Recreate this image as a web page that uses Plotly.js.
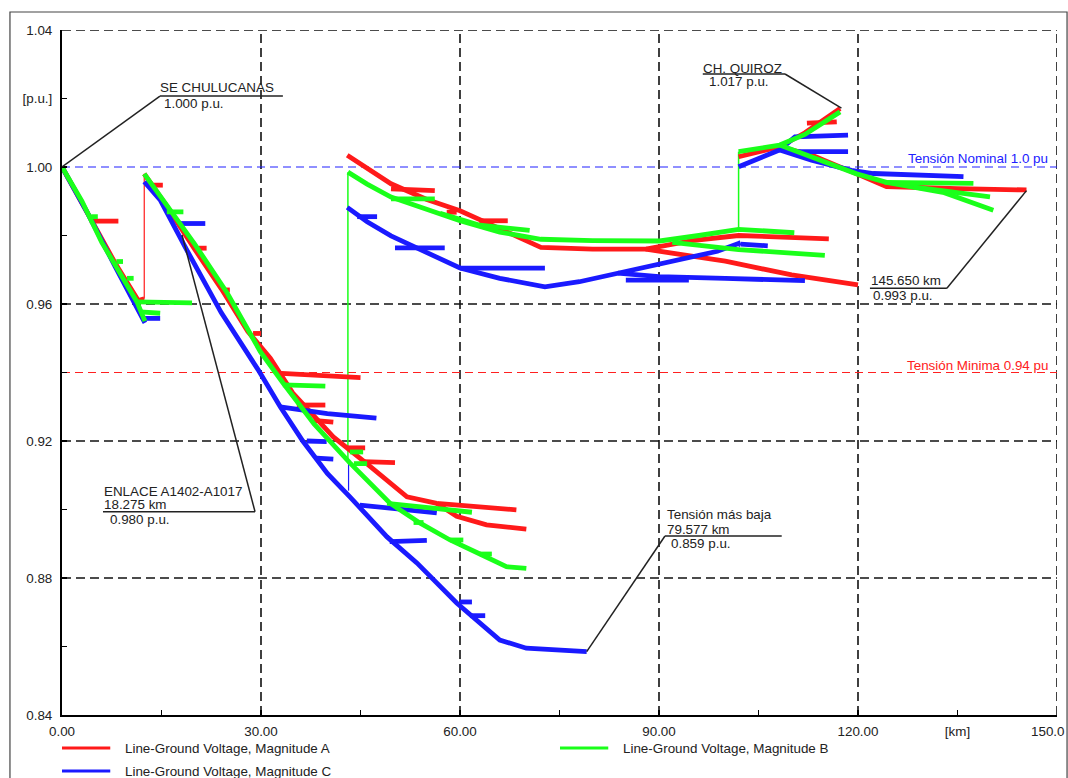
<!DOCTYPE html>
<html>
<head>
<meta charset="utf-8">
<script src="https://cdn.plot.ly/plotly-3.0.1.min.js"></script>
<style>html,body{margin:0;padding:0;background:#fff;}#chart{width:1068px;height:778px;}</style>
</head>
<body>
<div id="chart"></div>
<script>
// ---------- DATA (km, p.u.) ; null separates branches ----------
const redX = [
  0, 4.5, 8, 11.5, 12.4, null,
  4.2, 8.5, null,
  12.4, 16, 20, 24, 28, 31.4, 34.8, 40.9, 45.9, 52, 56.5, 60, 64, 68.5, null,
  56.5, 59.5, 64, 70, null,
  13.3, 15.2, null,
  20.6, 21.8, null,
  24.1, 25.3, null,
  28.8, 30, null,
  32.4, 45, null,
  35.4, 39.7, null,
  37.9, 40.9, null,
  42.9, 45.7, null,
  45.4, 50.2, null,
  43, 46, 49.6, 55, 60, 66, 72.2, 80, 88, 95, 102, 115.6, null,
  88, 100, 110, 120, null,
  49.6, 56.2, null,
  58, 59.5, null,
  62.9, 67.2, null,
  102, 108.2, 112, 117.3, null,
  112.3, 116.8, null,
  108.2, 113, 119.8, 124.3, 135, 145.4
];
const redY = [
  1.000, 0.9845, 0.972, 0.961, 0.9615, null,
  0.9842, 0.9842, null,
  0.998, 0.988, 0.976, 0.9645, 0.952, 0.9442, 0.934, 0.9212, 0.9135, 0.9037, 0.9018, 0.9012, 0.9005, 0.8999, null,
  0.9018, 0.898, 0.8955, 0.8943, null,
  0.9947, 0.9947, null,
  0.9763, 0.9763, null,
  0.9641, 0.9641, null,
  0.9514, 0.9514, null,
  0.9398, 0.9385, null,
  0.9305, 0.9305, null,
  0.926, 0.9255, null,
  0.918, 0.918, null,
  0.914, 0.9137, null,
  1.0034, 0.9995, 0.9951, 0.9905, 0.9872, 0.982, 0.9765, 0.976, 0.976, 0.9785, 0.980, 0.979, null,
  0.976, 0.9725, 0.9685, 0.9656, null,
  0.9936, 0.9931, null,
  0.9868, 0.9868, null,
  0.9843, 0.9843, null,
  1.003, 1.0059, 1.0100, 1.0171, null,
  1.0128, 1.0132, null,
  1.0059, 1.0035, 0.998, 0.9943, 0.9937, 0.9933
];
const greenX = [
  0, 3, 6, 9, 11.3, 12.5, null,
  11.3, 19.6, null,
  11.8, 14.8, null,
  8.2, 9.2, null,
  9.8, 10.8, null,
  4.4, 5.4, null,
  12.4, 16, 20, 24.9, 29.9, 33.3, 38, 43.4, 49.4, 54, 58.5, 63, 67, 70, null,
  15.8, 18.3, null,
  33.3, 39.7, null,
  43.4, 45.4, null,
  44, 46, null,
  49, 55, 61.8, null,
  53, 54.5, null,
  58.5, 60.5, null,
  63, 64.8, null,
  43.1, 46, 49.6, 55, 60, 66, 72.2, 80, 90.1, 96, 102, 110.4, null,
  92, 102, 115, null,
  49.6, 56.2, null,
  57, 63, 70.5, null,
  102, 108.2, 112, 117.3, null,
  108.2, 113, 119.8, 124.3, 128.3, 133, 140.4, null,
  124, 137.4, null,
  128.3, 139.9
];
const greenY = [
  1.000, 0.990, 0.978, 0.968, 0.9606, 0.955, null,
  0.9606, 0.9603, null,
  0.9577, 0.9573, null,
  0.9724, 0.9724, null,
  0.9675, 0.9675, null,
  0.9855, 0.9855, null,
  0.998, 0.9885, 0.9775, 0.9632, 0.9461, 0.937, 0.925, 0.9136, 0.9019, 0.896, 0.8911, 0.887, 0.8833, 0.8828, null,
  0.9869, 0.9869, null,
  0.9364, 0.936, null,
  0.9168, 0.9168, null,
  0.9134, 0.9134, null,
  0.9018, 0.9005, 0.8992, null,
  0.8962, 0.8962, null,
  0.8911, 0.8911, null,
  0.887, 0.887, null,
  0.9985, 0.995, 0.9912, 0.9875, 0.9843, 0.981, 0.9789, 0.9785, 0.9784, 0.98, 0.9818, 0.9808, null,
  0.978, 0.9759, 0.9742, null,
  0.9907, 0.9907, null,
  0.9865, 0.983, 0.9815, null,
  1.0045, 1.0064, 1.0095, 1.0161, null,
  1.0064, 1.003, 0.998, 0.9955, 0.9942, 0.9925, 0.9874, null,
  0.9955, 0.9952, null,
  0.9942, 0.9913
];
const blueX = [
  0, 4, 8, 12.5, null,
  12.3, 14.8, null,
  12.4, 14.8, 18.8, 24, 29.6, 32.9, 36.3, 40, 43.4, 49, 53.5, 59.5, 66, 70, 79.1, null,
  17.8, 21.6, null,
  32.9, 40, 47.4, null,
  36.9, 39.9, null,
  38.4, 40.9, null,
  44.9, 50, 56.5, null,
  49.4, 55, null,
  60, 61.8, null,
  61.5, 63.8, null,
  43, 46, 49.6, 55, 60, 66, 72.8, 78, 83.8, 90, 98.8, 102.3, null,
  102.3, 106.4, null,
  83.8, 90, 100, 112, null,
  85, 94.5, null,
  44.5, 47.5, null,
  50.2, 57.7, null,
  60, 72.8, null,
  102, 108.2, 110.5, 118.5, null,
  110.5, 118.5, null,
  108.2, 113, 119, 122.3, 135.9
];
const blueY = [
  1.000, 0.986, 0.971, 0.9545, null,
  0.9558, 0.9558, null,
  0.9957, 0.9904, 0.9758, 0.9575, 0.9407, 0.930, 0.920, 0.9105, 0.9037, 0.892, 0.8844, 0.8727, 0.8619, 0.8595, 0.8585, null,
  0.9835, 0.9835, null,
  0.930, 0.928, 0.9267, null,
  0.920, 0.9198, null,
  0.915, 0.9147, null,
  0.9013, 0.9003, 0.899, null,
  0.8906, 0.891, null,
  0.873, 0.873, null,
  0.869, 0.869, null,
  0.9882, 0.984, 0.9799, 0.975, 0.9705, 0.9675, 0.965, 0.9665, 0.969, 0.9715, 0.9754, 0.9779, null,
  0.9775, 0.977, null,
  0.969, 0.968, 0.9675, 0.9668, null,
  0.967, 0.967, null,
  0.9855, 0.9855, null,
  0.9764, 0.9764, null,
  0.9705, 0.9705, null,
  1.0001, 1.005, 1.0088, 1.0093, null,
  1.0045, 1.0045, null,
  1.005, 1.002, 0.999, 0.9981, 0.9972
];
// thin vertical connectors (switch / link points)
const connRedX = [12.4, 12.4];
const connRedY = [0.9615, 0.998];
const connGreenX = [43.1, 43.1, null, 102, 102];
const connGreenY = [0.9135, 0.9985, null, 0.981, 1.0045];
const connBlueX = [43.2, 43.2, null, 102.1, 102.1];
const connBlueY = [0.9055, 0.9135, null, 0.9765, 0.9785];

const seriesNames = ['Line-Ground Voltage, Magnitude A', 'Line-Ground Voltage, Magnitude B', 'Line-Ground Voltage, Magnitude C'];
const xTickVals = [0, 30, 60, 90, 120, 135, 150];
const xTickText = ['0.00', '30.00', '60.00', '90.00', '120.00', '[km]', ''];
const xLastLabel = '150.0';
const yTickVals = [0.84, 0.88, 0.92, 0.96, 1.00, 1.02, 1.04];
const yTickText = ['0.84', '0.88', '0.92', '0.96', '1.00', '[p.u.]', '1.04'];
const xGrid = [30, 60, 90, 120, 150];
const yGrid = [0.88, 0.92, 0.96, 1.04];
const nominalV = 1.0;
const minimumV = 0.94;

// ---------- CHART ----------
const FONT = 'Liberation Sans, Arial, sans-serif';
const FS = 13.4;
const RED = '#ff1a1a', GREEN = '#1aff1a', BLUE = '#1a1aff';
const colors = [RED, GREEN, BLUE];

const traces = [
  {x: connRedX, y: connRedY, mode: 'lines', line: {color: RED, width: 1.2}, showlegend: false, hoverinfo: 'skip'},
  {x: connGreenX, y: connGreenY, mode: 'lines', line: {color: GREEN, width: 1.5}, showlegend: false, hoverinfo: 'skip', connectgaps: false},
  {x: connBlueX, y: connBlueY, mode: 'lines', line: {color: BLUE, width: 1.2}, showlegend: false, hoverinfo: 'skip', connectgaps: false},
  {x: redX, y: redY, name: seriesNames[0], mode: 'lines', line: {color: RED, width: 4.8}, connectgaps: false, showlegend: false},
  {x: blueX, y: blueY, name: seriesNames[2], mode: 'lines', line: {color: BLUE, width: 4.8}, connectgaps: false, showlegend: false},
  {x: greenX, y: greenY, name: seriesNames[1], mode: 'lines', line: {color: GREEN, width: 4.8}, connectgaps: false, showlegend: false}
];

const shapes = [];
xGrid.forEach(v => shapes.push({type: 'line', xref: 'x', yref: 'y', x0: v, x1: v, y0: 0.84, y1: 1.04, layer: 'below', line: {color: '#111', width: 1.6, dash: '9px,5px'}}));
yGrid.forEach(v => shapes.push({type: 'line', xref: 'x', yref: 'y', x0: 0, x1: 150, y0: v, y1: v, layer: 'below', line: {color: '#111', width: 1.6, dash: '9px,5px'}}));
shapes.push({type: 'line', xref: 'x', yref: 'y', x0: 0, x1: 150, y0: nominalV, y1: nominalV, layer: 'below', line: {color: '#2020ff', width: 1.2, dash: '8px,5px'}});
shapes.push({type: 'line', xref: 'x', yref: 'y', x0: 0, x1: 150, y0: minimumV, y1: minimumV, layer: 'below', line: {color: '#ff2020', width: 1.2, dash: '8px,5px'}});
// outer frame
shapes.push({type: 'rect', xref: 'paper', yref: 'paper', x0: -0.0523, x1: 1.0101, y0: -0.12, y1: 1.0263, line: {color: '#444', width: 1.2}, fillcolor: 'rgba(0,0,0,0)'});

// callout leader lines [x0,y0,x1,y1]
const leaders = [
  [0, 1.0, 14.77, 1.0207], [14.77, 1.0207, 33.3, 1.0207],
  [96.6, 1.02715, 109.0, 1.02715], [109.0, 1.02715, 117.5, 1.0172],
  [145.4, 0.9931, 133.4, 0.96458], [133.4, 0.96458, 121.8, 0.96458],
  [18.09, 0.98015, 29.1, 0.89936], [29.1, 0.89936, 6.18, 0.89936],
  [79.1, 0.8585, 90.9, 0.89226], [90.9, 0.89226, 108.5, 0.89226]
];
leaders.forEach(l => shapes.push({type: 'line', xref: 'x', yref: 'y', x0: l[0], y0: l[1], x1: l[2], y1: l[3], line: {color: '#222', width: 1.5}}));

function txt(x, y, t, anchor, color) {
  return {x: x, y: y, xref: 'x', yref: 'y', text: t, showarrow: false, xanchor: anchor || 'left', yanchor: 'middle',
          font: {family: FONT, size: FS, color: color || '#222'}};
}
const annotations = [
  txt(14.4, 1.0231, 'SE CHULUCANAS'),
  txt(15.0, 1.0184, '1.000 p.u.'),
  txt(96.4, 1.0289, 'CH. QUIROZ'),
  txt(97.2, 1.0249, '1.017 p.u.'),
  txt(149.0, 1.0025, 'Tensión Nominal 1.0 pu', 'right', '#2020ff'),
  txt(149.0, 0.9419, 'Tensión Minima 0.94 pu', 'right', '#ff2020'),
  txt(121.7, 0.9670, '145.650 km'),
  txt(122.0, 0.9626, '0.993 p.u.'),
  txt(6.0, 0.9052, 'ENLACE A1402-A1017'),
  txt(6.1, 0.9015, '18.275 km'),
  txt(7.0, 0.8971, '0.980 p.u.'),
  txt(90.9, 0.8984, 'Tensión más baja'),
  txt(90.9, 0.8942, '79.577 km'),
  txt(91.5, 0.8901, '0.859 p.u.')
];
// last x label kept inside the page
annotations.push({xref: 'paper', yref: 'paper', x: 0.9905, y: -0.0235, text: xLastLabel, showarrow: false,
                  xanchor: 'center', yanchor: 'middle', font: {family: FONT, size: FS, color: '#222'}});

// legend drawn below the axis (pixel rows 748 / 771), paper coords
const legendPos = [[0, -0.0482], [0.5005, -0.0482], [0, -0.0818]];
legendPos.forEach((p, i) => {
  shapes.push({type: 'line', xref: 'paper', yref: 'paper', x0: p[0], x1: p[0] + 0.0485, y0: p[1], y1: p[1], line: {color: colors[i], width: 3}});
  annotations.push({xref: 'paper', yref: 'paper', x: p[0] + 0.0613, y: p[1], text: seriesNames[i], showarrow: false,
                    xanchor: 'left', yanchor: 'middle', font: {family: FONT, size: FS, color: '#222'}});
});

const layout = {
  width: 1068, height: 778,
  margin: {l: 62, r: 11, t: 30, b: 63},
  paper_bgcolor: '#fff', plot_bgcolor: '#fff',
  font: {family: FONT, size: FS, color: '#222'},
  xaxis: {
    range: [0, 150], showgrid: false, zeroline: false, showline: true, linecolor: '#000', linewidth: 2,
    tickmode: 'array', tickvals: xTickVals, ticktext: xTickText, ticks: 'inside', ticklen: 5, tickcolor: '#000', tickwidth: 1.2,
    tickfont: {family: FONT, size: FS, color: '#222'}, ticklabelstandoff: 3,
    minor: {tickmode: 'array', tickvals: [15, 45, 75, 105], ticks: 'inside', ticklen: 5, tickcolor: '#000', tickwidth: 1.2, showgrid: false}
  },
  yaxis: {
    range: [0.84, 1.04], showgrid: false, zeroline: false, showline: true, linecolor: '#000', linewidth: 2,
    tickmode: 'array', tickvals: yTickVals, ticktext: yTickText, ticks: 'inside', ticklen: 5, tickcolor: '#000', tickwidth: 1.2,
    tickfont: {family: FONT, size: FS, color: '#222'}, ticklabelstandoff: 5,
    minor: {tickmode: 'array', tickvals: [0.86, 0.90, 0.94, 0.98], ticks: 'inside', ticklen: 5, tickcolor: '#000', tickwidth: 1.2, showgrid: false}
  },
  showlegend: false,
  shapes: shapes,
  annotations: annotations
};

Plotly.newPlot('chart', traces, layout, {displayModeBar: false, staticPlot: true});
</script>
</body>
</html>
